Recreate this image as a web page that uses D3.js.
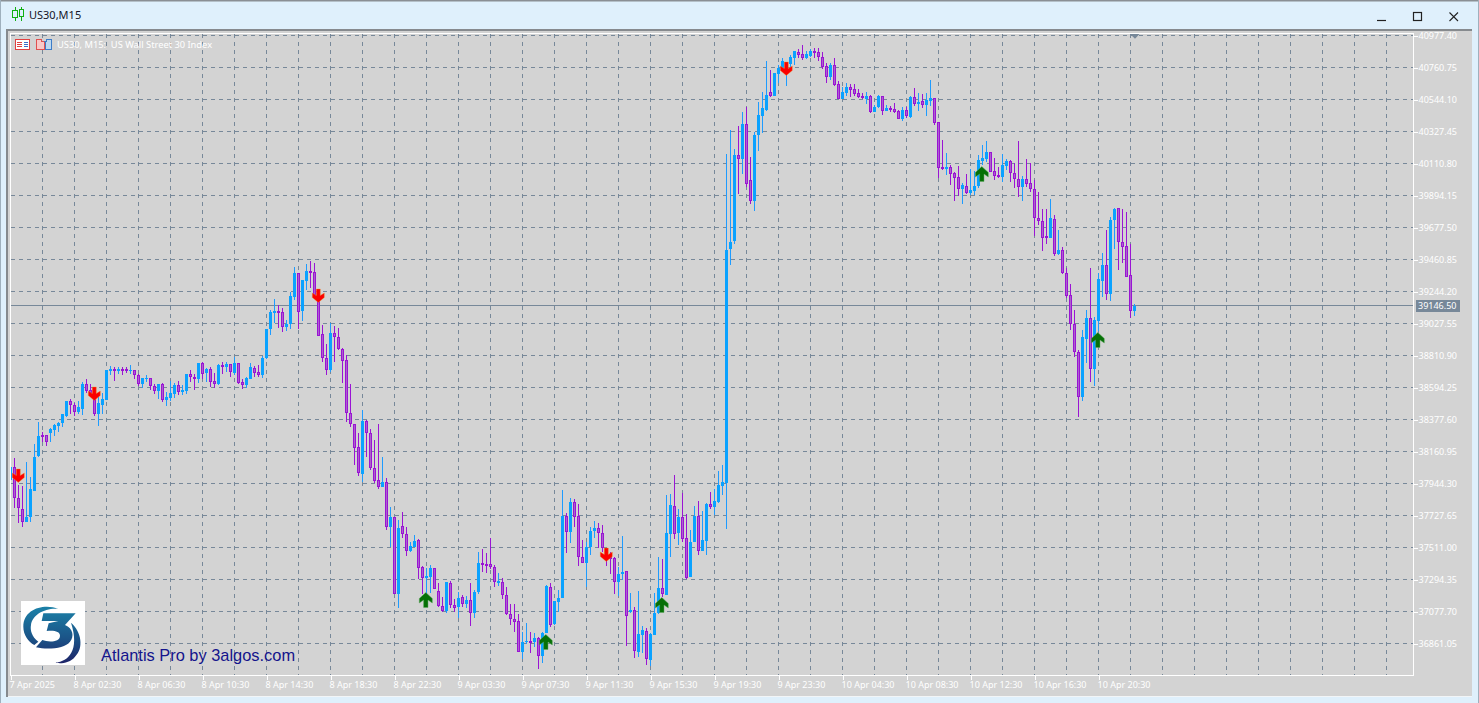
<!DOCTYPE html>
<html><head><meta charset="utf-8">
<style>
html,body{margin:0;padding:0;background:#DFF0FC;overflow:hidden}
svg{display:block}
text{font-family:"Noto Sans",sans-serif}
</style>
<script src="https://cdn.jsdelivr.net/npm/d3@7"></script>
</head><body>
<svg id="c" width="1479" height="703"></svg>
<script>
const symbolTitle = "US30,M15";
const chartCaption = "US30, M15:  US Wall Street 30 Index";
const brandText = "Atlantis Pro by 3algos.com";
const priceTicks = [40977.40,40760.75,40544.10,40327.45,40110.80,39894.15,39677.50,39460.85,39244.20,39027.55,38810.90,38594.25,38377.60,38160.95,37944.30,37727.65,37511.00,37294.35,37077.70,36861.05];
const timeTicks = ["7 Apr 2025","8 Apr 02:30","8 Apr 06:30","8 Apr 10:30","8 Apr 14:30","8 Apr 18:30","8 Apr 22:30","9 Apr 03:30","9 Apr 07:30","9 Apr 11:30","9 Apr 15:30","9 Apr 19:30","9 Apr 23:30","10 Apr 04:30","10 Apr 08:30","10 Apr 12:30","10 Apr 16:30","10 Apr 20:30"];
const lastPrice = 39146.50;
// B = bullish (blue), P = bearish (purple)
const candleSides = Array.from("BPPPBBBBPPBBBBBPPBBPPPBBBBPBPPBPPBBPPBPBBBPBBPPBPBPPBPBPBPPBBPPBBBBPPBBBPBBPPPPPBPPPPPPPBPPPPBPBPBPPBBPPBBPPPBPPBPBPBBPPPPBPPPPPBBPBPBBPBBBPBPPPBBBPPPPPBBPBPBBPBBBPBBPBPPBBPBBPBBBBBBPBPPBBBBPBBBBBBPPBBPPPPBPPBBPPPPBPBBPBPPPBPBPBPBBPPPBPPPBPBBBBBPPPBBPPPBPPPPPPBPBPPPPPBBPBBBPBBPPPPB");
const highs = [38058,38115,37934,37927,38092,37986,38212,38358,38295,38273,38318,38347,38363,38415,38503,38514,38492,38501,38634,38650,38618,38532,38559,38555,38713,38740,38735,38731,38731,38733,38744,38713,38683,38658,38679,38658,38618,38618,38623,38566,38638,38627,38641,38611,38683,38713,38683,38762,38765,38724,38731,38690,38753,38765,38767,38753,38803,38758,38650,38663,38758,38740,38747,38810,38990,39119,39191,39153,39130,39051,39243,39412,39372,39322,39430,39448,
39435,39243,39017,38887,39033,39011,38995,38859,38814,38616,38347,38283,38442,38374,38311,38239,38347,38121,37979,37783,37720,37697,37749,37652,37546,37596,37566,37386,37370,37393,37370,37268,37174,37275,37284,37160,37212,37189,37182,37268,37223,37478,37499,37472,37573,37393,37336,37302,37241,37128,37126,37058,36941,37002,36941,36934,36907,36941,37257,37268,37149,37223,37900,37742,37844,37837,37805,37562,37550,37648,37690,37679,37663,37510,37483,37444,37381,37589,37352,37201,37110,37216,
36979,36964,36930,37201,37444,37431,37866,37873,38002,37769,37882,37738,37629,37792,37826,37758,37810,37889,37907,38029,38069,
40173,40338,40207,40365,40457,40491,40152,40326,40525,40593,40805,40744,40721,40778,40823,40796,40845,40875,40884,40913,40875,40884,40895,40890,40863,40789,40789,40823,40669,40631,40658,40649,40649,40613,40586,40595,40575,40507,40575,40570,40507,40500,40518,40473,40496,40491,40570,40620,40586,40579,
40586,40676,40552,40394,40270,40180,40101,40055,40094,39976,40040,40071,40060,40168,40236,40263,40191,40146,40089,40175,40139,40134,40112,40263,40026,40141,40112,39999,39920,39800,39800,39868,39762,39661,39543,39401,39295,39119,38848,38984,39119,39401,39074,39367,39502,39661,39746,39809,39807,39800,39780,39566,39160];
const lows = [37968,37776,37679,37647,37686,37686,37896,38126,38228,38200,38228,38266,38295,38325,38397,38415,38404,38415,38408,38555,38532,38404,38336,38415,38510,38679,38638,38686,38679,38695,38686,38652,38604,38591,38634,38577,38550,38514,38498,38471,38503,38525,38543,38543,38550,38634,38577,38627,38652,38634,38600,38591,38611,38686,38701,38668,38679,38618,38584,38589,38650,38668,38668,38656,38787,38950,39029,38995,38972,38979,38988,39187,38988,39044,39254,39266,
39232,38945,38769,38679,38701,38769,38848,38627,38363,38329,38070,37995,37957,38126,38036,37945,37907,37923,37629,37512,37194,37099,37573,37453,37483,37512,37295,37194,37189,37201,37228,37110,37077,37070,37099,37077,37036,37106,37099,36982,37036,37194,37347,37341,37363,37246,37250,37160,37054,36986,36937,36806,36756,36858,36799,36840,36686,36731,36930,36975,36986,37077,37171,37476,37544,37652,37386,37404,37246,37460,37573,37505,37483,37388,37332,37196,37185,37291,36847,37070,36761,36772,
36794,36715,36709,36918,37061,37178,37192,37444,37568,37528,37550,37295,37309,37548,37460,37489,37460,37769,37731,37810,37866,
37634,39424,39566,39904,40040,39949,39837,39789,40198,40320,40468,40559,40570,40654,40755,40638,40760,40778,40823,40812,40816,40834,40827,40807,40748,40658,40676,40635,40547,40547,40568,40559,40568,40552,40545,40514,40450,40457,40484,40439,40466,40462,40455,40412,40398,40416,40416,40500,40466,40484,
40432,40500,40371,40010,40067,40033,39965,39859,39893,39837,39904,39897,39897,39947,40101,40123,40055,39999,40010,39988,40067,39988,39947,39882,39857,39954,39920,39620,39694,39518,39563,39609,39485,39491,39363,39198,38984,38803,38397,38503,38762,38634,38604,38979,39209,39187,39182,39532,39390,39439,39345,39067,39078];
const bodyTops = [38058,38058,37844,37769,37715,37905,38126,38268,38273,38273,38311,38338,38354,38413,38501,38505,38473,38460,38618,38616,38575,38514,38487,38514,38711,38720,38717,38717,38717,38720,38715,38711,38677,38656,38658,38656,38602,38616,38616,38528,38555,38611,38609,38577,38683,38683,38663,38760,38760,38717,38717,38636,38747,38747,38753,38751,38758,38758,38629,38656,38731,38724,38697,38792,38988,39103,39112,39110,39103,39024,39214,39367,39367,39322,39381,39381,
39374,39232,38954,38792,38961,38961,38938,38853,38780,38419,38345,38189,38367,38367,38283,38047,37968,37952,37952,37715,37715,37641,37654,37600,37521,37553,37562,37377,37318,37370,37370,37219,37113,37275,37271,37120,37171,37174,37153,37153,37207,37404,37404,37402,37397,37381,37282,37280,37187,37058,37025,37011,36874,36876,36876,36896,36896,36930,37250,37246,37149,37171,37724,37724,37817,37817,37724,37444,37512,37620,37641,37641,37607,37510,37444,37438,37329,37345,37350,37088,37088,36923,
36952,36943,36925,37065,37234,37234,37607,37796,37792,37715,37715,37573,37546,37724,37724,37562,37805,37805,37826,37934,37952,
39525,39577,40166,40166,40378,40378,39999,40301,40439,40486,40575,40595,40721,40757,40803,40766,40832,40870,40866,40852,40852,40872,40870,40863,40830,40771,40778,40775,40647,40595,40629,40629,40613,40586,40568,40568,40568,40491,40568,40568,40486,40484,40480,40464,40473,40471,40559,40559,40527,40532,
40541,40552,40552,40390,40085,40085,40085,40044,40017,39963,39956,39931,39956,40134,40148,40189,40186,40058,40031,40098,40125,40125,40044,40004,40004,40004,39976,39936,39740,39719,39618,39740,39733,39523,39523,39367,39218,39022,38832,38934,39062,39062,39049,39327,39421,39421,39726,39800,39807,39577,39550,39354,39146.5];
const bodyBottoms = [37968,37844,37776,37686,37686,37715,37896,38131,38266,38223,38288,38307,38336,38352,38404,38473,38431,38428,38451,38573,38559,38415,38415,38476,38510,38708,38708,38706,38711,38708,38713,38681,38620,38620,38654,38604,38573,38573,38510,38512,38525,38552,38564,38566,38573,38668,38654,38654,38688,38695,38634,38620,38620,38735,38733,38697,38695,38627,38613,38613,38654,38695,38681,38681,38792,38988,39101,39101,39006,39006,39022,39209,39108,39114,39318,39367,
39221,38945,38792,38713,38713,38938,38853,38776,38419,38345,38187,38013,38006,38283,38047,37964,37923,37923,37652,37652,37194,37194,37600,37490,37490,37512,37370,37302,37304,37314,37228,37113,37081,37081,37122,37099,37106,37126,37126,37065,37065,37207,37399,37388,37381,37275,37273,37187,37058,37025,37009,36806,36806,36871,36871,36874,36779,36779,36930,36986,36993,37144,37171,37618,37618,37720,37444,37404,37404,37512,37625,37607,37510,37442,37435,37275,37275,37329,37050,37072,36808,36806,
36918,36758,36749,36918,37065,37198,37192,37602,37602,37611,37568,37302,37309,37548,37489,37489,37557,37785,37787,37821,37930,
37950,39532,39588,40143,40141,39972,39857,39857,40304,40432,40473,40568,40570,40719,40757,40732,40782,40827,40845,40825,40825,40839,40868,40834,40762,40699,40696,40642,40547,40547,40588,40611,40581,40561,40554,40547,40459,40459,40491,40466,40466,40473,40459,40414,40414,40432,40423,40514,40516,40507,
40509,40534,40387,40083,40073,40076,40042,40015,39940,39940,39911,39911,39927,39958,40128,40143,40056,40028,40022,40022,40096,40044,40004,39954,39954,39974,39940,39740,39724,39609,39609,39609,39500,39500,39367,39216,39022,38837,38532,38532,38925,38717,38717,39047,39318,39225,39225,39730,39577,39548,39345,39114,39114];
const sellBars = [2,21,77,149,194];
const sellPrices = [37954.5,38509.6,39173.1,37419.6,40710];
const buyBars = [104,134,163,243,272];
const buyPrices = [37203,36918.6,37169.1,40087.1,38963.2];

const svg = d3.select("#c");
const bg="#D3D3D3", grid="#778899", blue="#1E9BFF", blueBody="#0AA2FF", violet="#9A14D4", violetFill="#AB62CC";

const x = d3.scaleLinear().domain([0,351]).range([10.5,1414.5]);
const y = d3.scaleLinear().domain([priceTicks[0],priceTicks[19]]).range([35.5,643.5]);
const labelBars = timeTicks.map((_,i)=>i*16);
const gridBars = d3.range(0,44,1).map(i=>i*8).filter(i=>i>0);

// window chrome
svg.append("rect").attr("x",0).attr("y",0).attr("width",1479).attr("height",1.5).attr("fill","#8a8f94");
svg.append("rect").attr("x",0).attr("y",0).attr("width",1).attr("height",703).attr("fill","#9fb0bd");
svg.append("rect").attr("x",1478).attr("y",0).attr("width",1).attr("height",703).attr("fill","#9fb0bd");
svg.append("rect").attr("x",6).attr("y",29).attr("width",1466).attr("height",668).attr("fill","#868A8E");
svg.append("rect").attr("x",8).attr("y",31).attr("width",1464).attr("height",665).attr("fill",bg);
svg.append("rect").attr("x",8).attr("y",696).attr("width",1464).attr("height",1).attr("fill","#F2F5F7");
svg.append("text").attr("x",29).attr("y",19).attr("font-size",11).attr("fill","#141428").text(symbolTitle);
const ic=svg.append("g").attr("stroke","#10B010").attr("fill","none").attr("shape-rendering","crispEdges");
ic.append("path").attr("d","M15.5,7V21M21.5,7V21");
ic.append("rect").attr("x",12.5).attr("y",10.5).attr("width",5).attr("height",7).attr("fill","#DFF0FC");
ic.append("rect").attr("x",19.5).attr("y",9.5).attr("width",4).attr("height",7).attr("fill","#DFF0FC");
const wb=svg.append("g").attr("fill","none").attr("stroke","#222");
wb.append("path").attr("d","M1377,20.5H1386").attr("stroke-width",1.2);
wb.append("rect").attr("x",1413.5).attr("y",12.5).attr("width",8).attr("height",8).attr("stroke-width",1.2);
wb.append("path").attr("d","M1449.5,12.5L1458,21M1458,12.5L1449.5,21").attr("stroke-width",1.1);

// plot
const defs=svg.append("defs");
defs.append("clipPath").attr("id","plot").append("rect").attr("x",11).attr("y",34).attr("width",1402).attr("height",641);
const grad=defs.append("linearGradient").attr("id","logoGrad").attr("gradientUnits","userSpaceOnUse").attr("x1",0).attr("y1",40).attr("x2",0).attr("y2",205);
grad.append("stop").attr("offset",0).attr("stop-color","#1B7FA6");
grad.append("stop").attr("offset",.55).attr("stop-color","#1B5387");
grad.append("stop").attr("offset",1).attr("stop-color","#1E2468");

// grid
const gg=svg.append("g").attr("shape-rendering","crispEdges").attr("stroke",grid).attr("stroke-dasharray","4,4").attr("fill","none");
gg.selectAll(".h").data(priceTicks).join("line").attr("x1",11).attr("x2",1413).attr("y1",d=>y(d)).attr("y2",d=>y(d));
gg.selectAll(".v").data(gridBars).join("line").attr("y1",34).attr("y2",675).attr("x1",d=>x(d)).attr("x2",d=>x(d));
svg.append("line").attr("x1",11).attr("x2",1413).attr("y1",Math.floor(y(lastPrice))+.5).attr("y2",Math.floor(y(lastPrice))+.5).attr("stroke",grid).attr("shape-rendering","crispEdges");

// axes
const axisY=svg.append("g").attr("transform","translate(1413.5,0)").call(d3.axisRight(y).tickValues(priceTicks).tickFormat(d3.format(".2f")).tickSize(4).tickSizeOuter(0).tickPadding(1));
axisY.select(".domain").attr("d","M0,33V675");
const axisX=svg.append("g").attr("transform","translate(0,675.5)").call(d3.axisBottom(x).tickValues(labelBars).tickFormat((d,i)=>timeTicks[i]).tickSize(4).tickSizeOuter(0).tickPadding(1));
axisX.select(".domain").attr("d","M10,0H1413.5");
svg.append("rect").attr("x",10).attr("y",33).attr("width",1404).attr("height",1).attr("fill","#fff");
svg.append("rect").attr("x",10).attr("y",33).attr("width",1).attr("height",643).attr("fill","#fff");
[axisY,axisX].forEach(a=>{a.attr("shape-rendering","crispEdges");a.selectAll("path,line").attr("stroke","#fff");a.selectAll("text").attr("fill","#fff").attr("font-size",9).attr("font-family","'Noto Sans',sans-serif").attr("shape-rendering","auto");});
axisX.selectAll("text").attr("text-anchor","start").attr("dx",-1.5).attr("y",6).attr("dy","0.71em");

// candles
const bars=d3.range(candleSides.length);
const cg=svg.append("g").attr("clip-path","url(#plot)").attr("shape-rendering","crispEdges");
cg.selectAll(".w").data(bars).join("rect")
 .attr("x",i=>x(i)-.5).attr("width",1)
 .attr("y",i=>Math.round(y(highs[i])))
 .attr("height",i=>Math.max(1,Math.round(y(lows[i]))-Math.round(y(highs[i]))))
 .attr("fill",i=>candleSides[i]==="B"?blue:violet);
cg.selectAll(".bb").data(bars.filter(i=>candleSides[i]==="B")).join("rect")
 .attr("x",i=>x(i)-1.5).attr("width",3)
 .attr("y",i=>Math.round(y(bodyTops[i])))
 .attr("height",i=>Math.max(1,Math.round(y(bodyBottoms[i]))-Math.round(y(bodyTops[i]))))
 .attr("fill",blueBody);
cg.selectAll(".bp").data(bars.filter(i=>candleSides[i]==="P")).join("rect")
 .attr("x",i=>x(i)-1).attr("width",2)
 .attr("y",i=>Math.round(y(bodyTops[i]))+.5)
 .attr("height",i=>Math.max(1,Math.round(y(bodyBottoms[i]))-Math.round(y(bodyTops[i]))-1))
 .attr("fill",violetFill).attr("stroke",violet);

// signal arrows
const ag=svg.append("g");
const downD="M-2,-13H2V-6.5L6,-9V-4.5L0,0.5L-6,-4.5V-9L-2,-6.5Z";
const upD="M-2.2,14.5H2.2V7L6.5,10V5.5L0,-0.5L-6.5,5.5V10L-2.2,7Z";
ag.selectAll(".s").data(sellBars).join("path").attr("d",downD)
 .attr("transform",(b,i)=>`translate(${x(b)-.2},${y(sellPrices[i])})`).attr("fill","#FB0000").attr("stroke","#F39A20").attr("stroke-opacity",.45).attr("stroke-width",.8);
ag.selectAll(".b").data(buyBars).join("path").attr("d",upD)
 .attr("transform",(b,i)=>`translate(${x(b)-.7},${y(buyPrices[i])})`).attr("fill","#067006").attr("stroke","#5FA85F").attr("stroke-opacity",.6).attr("stroke-width",.8);

// price tag + period marker
svg.append("rect").attr("x",1416).attr("y",Math.floor(y(lastPrice))-5).attr("width",44).attr("height",12).attr("fill",grid);
svg.append("text").attr("x",1418).attr("y",Math.floor(y(lastPrice))+4).attr("font-size",9).attr("fill","#fff").text(d3.format(".2f")(lastPrice));
svg.append("path").attr("d","M1130,34H1139.5L1135,38.7Z").attr("fill",grid);

// caption + icons
svg.append("text").attr("x",57).attr("y",47.5).attr("font-size",9.3).attr("fill","#fff").style("white-space","pre").text(chartCaption);
const t=svg.append("g").attr("shape-rendering","crispEdges").attr("fill","none");
t.append("rect").attr("x",15.5).attr("y",39.5).attr("width",14).attr("height",10).attr("stroke","#E04040").attr("fill","#fff");
t.append("path").attr("d","M17,42.5H22M17,44.5H22M17,46.5H22").attr("stroke","#E04040");
t.append("path").attr("d","M24,42.5H28M24,44.5H28M24,46.5H28").attr("stroke","#3C6EC8");
t.append("path").attr("d","M36.5,39.5H41.5V41.5H44V49.5H36.5Z").attr("stroke","#E05050").attr("fill","#F8C8C8");
t.append("path").attr("d","M46,49.5H51.5V39.5H46.5V41.5H45Z").attr("stroke","#3C7CC8").attr("fill","#BCD8F0");

// logo
svg.append("rect").attr("x",21).attr("y",601).attr("width",64).attr("height",64).attr("fill","#fff");
const lg=svg.append("g").attr("transform","translate(15,595) scale(0.3333)").attr("fill","url(#logoGrad)");
lg.append("path").attr("d","M130,42C90,25 25,40 25,95C25,120 40,140 58,150L70,140C50,125 45,105 48,90C52,60 90,38 130,42Z");
lg.append("path").attr("d","M85,55L182,55L150,90C175,100 178,125 165,140C150,160 100,165 63,157L82,135C100,142 135,142 135,122C135,108 115,105 95,108L101,85L130,78L80,78Z");
lg.append("path").attr("d","M168,83C200,110 207,160 180,185C165,205 130,208 122,202C160,200 195,165 168,83Z");
svg.append("text").attr("x",101).attr("y",661).style("font-family","'Liberation Sans',Arial,sans-serif").attr("font-size",16.4).attr("fill","#14148C").text(brandText);
</script>
</body></html>
